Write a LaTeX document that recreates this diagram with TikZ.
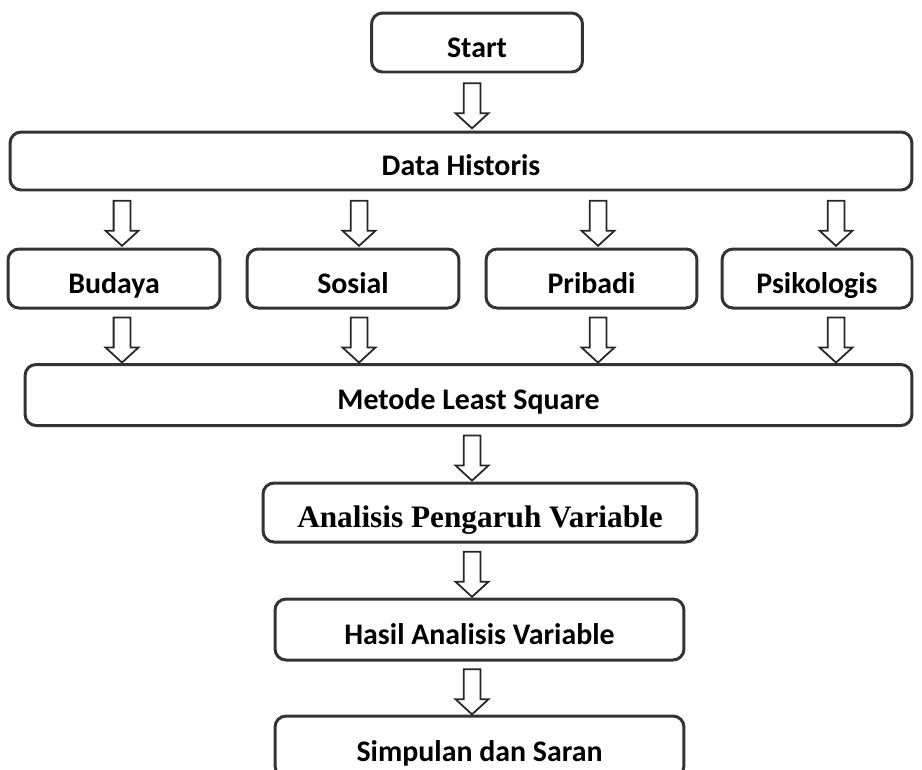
\documentclass[tikz,border=0pt]{standalone}
\usepackage{fontspec}
\setmainfont{Carlito}
\newfontfamily\timesfont{Liberation Serif}
\usetikzlibrary{shapes.arrows}

\tikzset{
	box/.style={rectangle, rounded corners=0.22cm, draw=black!80, line width=1.7pt,
		minimum height=1.18cm, text height=16.5pt, text depth=0pt,
		font=\fontsize{17}{20}\selectfont\bfseries},
	harrow/.style={single arrow, draw=black!85, line width=1pt, fill=white,
		rotate=-90, minimum height=0.9cm, minimum width=0pt, inner sep=0.15cm,
		single arrow head extend=0.16cm, single arrow tip angle=95}
}

\begin{document}
\begin{tikzpicture}[x=0.02cm, y=-0.02cm]
		\useasboundingbox (0,0) rectangle (922,769);

		\node[box, minimum width=4.22cm] (start) at (477,42.5) {Start};
		\node[box, minimum width=18.04cm, minimum height=1.16cm] (data) at (461,161) {Data Historis};

		\node[box, minimum width=4.24cm] (budaya) at (114,278.5) {Budaya};
		\node[box, minimum width=4.24cm] (sosial) at (353,278.5) {Sosial};
		\node[box, minimum width=4.22cm] (pribadi) at (591.5,278.5) {Pribadi};
		\node[box, minimum width=3.8cm] (psikologis) at (817,278.5) {Psikologis};

		\node[box, minimum width=17.74cm, minimum height=1.22cm] (metode) at (468.5,395) {Metode Least Square};
		\node[box, minimum width=8.68cm, font=\fontsize{17.8}{20}\selectfont\timesfont\bfseries] (analisis) at (480,512.5) {Analisis Pengaruh Variable};
		\node[box, minimum width=8.18cm, minimum height=1.22cm] (hasil) at (479.5,629.5) {Hasil Analisis Variable};
		\node[box, minimum width=8.18cm, minimum height=1.22cm] (simpulan) at (479.5,746.5) {Simpulan dan Saran};

		% block arrows between the boxes
		\path (start.south -| 472,0) -- (data.north -| 472,0) node[midway, harrow] {};
		\foreach \n/\xa in {budaya/122, sosial/359, pribadi/598, psikologis/836} {
			\path (data.south -| \xa,0) -- (\n.north -| \xa,0) node[midway, harrow] {};
			\path (\n.south -| \xa,0) -- (metode.north -| \xa,0) node[midway, harrow] {};
		}
		\path (metode.south -| 472,0) -- (analisis.north -| 472,0) node[midway, harrow] {};
		\path (analisis.south -| 472,0) -- (hasil.north -| 472,0) node[midway, harrow] {};
		\path (hasil.south -| 472,0) -- (simpulan.north -| 472,0) node[midway, harrow] {};
	\end{tikzpicture}
\end{document}
